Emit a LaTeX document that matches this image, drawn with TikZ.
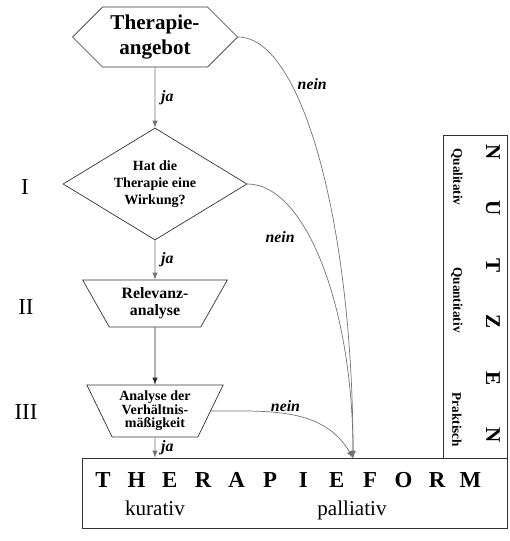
\documentclass[tikz,border=0pt]{standalone}
\usepackage{fontspec}
\setmainfont{Liberation Serif}
\usetikzlibrary{shapes.geometric,shapes.symbols,positioning}

\tikzset{
  flow/.style={draw=black!80, fill=white, align=center, inner sep=0pt},
  conn/.style={draw=black!55, -latex},
  lbl/.style={font=\bfseries\itshape\fontsize{9}{10}\selectfont},
  bigletter/.style={font=\bfseries\fontsize{13}{14}\selectfont, anchor=base},
  sideletter/.style={font=\bfseries\fontsize{12}{12}\selectfont, rotate=-90},
  sidelabel/.style={font=\bfseries\fontsize{7.5}{8}\selectfont, rotate=-90},
  numeral/.style={font=\fontsize{13}{14}\selectfont},
}

\begin{document}
\begin{tikzpicture}
        \useasboundingbox (0,0) rectangle (10.18,-10.82);
        % flow of decisions
        \node[flow, shape=signal, signal to=west and east, minimum width=3.3cm, minimum height=1.2cm,
              font=\bfseries\fontsize{12}{14}\selectfont] (offer) at (3.1,-0.74) {Therapie-\\angebot};
        \node[flow, diamond, aspect=1.64, minimum width=3.68cm, minimum height=2.24cm,
              font=\bfseries\fontsize{8}{9.7}\selectfont] (effect) at (3.1,-3.68) {Hat die\\Therapie eine\\Wirkung?};
        \node[flow, trapezium, shape border rotate=180, trapezium left angle=58, trapezium right angle=58,
              trapezium stretches=true, minimum width=2.9cm, minimum height=0.94cm,
              font=\bfseries\fontsize{9}{9.5}\selectfont] (relevance) at (3.1,-6.07) {Relevanz-\\analyse};
        \node[flow, trapezium, shape border rotate=180, trapezium left angle=62, trapezium right angle=62,
              trapezium stretches=true, minimum width=2.74cm, minimum height=1.04cm,
              font=\bfseries\fontsize{8}{7.6}\selectfont] (ratio) at (3.1,-8.22) {Analyse der\\Verhältnis-\\mäßigkeit};
        % boxes
        \node[draw=black!80, minimum width=8.5cm, minimum height=1.4cm, inner sep=0pt] (form) at (5.89,-9.86) {};
        \node[draw=black!80, minimum width=1.28cm, minimum height=6.46cm, inner sep=0pt] (benefit) at (9.5,-5.93) {};
        \foreach \c [count=\i from 0] in {T,H,E,R,A,P,I,E,F,O,R,M}
          \node[bigletter] (f\i) at (2.06+0.668*\i,-9.74) {\c};
        \node[font=\fontsize{12}{14}\selectfont, anchor=base] (curative) at (3.1,-10.3) {kurativ};
        \node[font=\fontsize{12}{14}\selectfont, anchor=base] (palliative) at (7.04,-10.3) {palliativ};
        \foreach \c [count=\i from 0] in {N,U,T,Z,E,N}
          \node[sideletter] (n\i) at (9.86,-3.04-1.132*\i) {\c};
        \node[sidelabel] (qual) at (9.14,-3.54) {Qualitativ};
        \node[sidelabel] (quant) at (9.14,-6.0) {Quantitativ};
        \node[sidelabel] (prakt) at (9.14,-8.4) {Praktisch};
        % levels
        \node[numeral] (lvl1) at (0.5,-3.74) {I};
        \node[numeral] (lvl2) at (0.52,-6.14) {II};
        \node[numeral] (lvl3) at (0.52,-8.24) {III};
        % connectors
        \coordinate (merge) at (7.06,-9.16);
        \draw[conn] (offer) -- node[lbl, right] {ja} (effect);
        \draw[conn] (effect) -- node[lbl, right] {ja} (relevance);
        \draw[conn, draw=black!85] (relevance) -- (ratio);
        \draw[conn] (ratio) -- node[lbl, right] {ja} (ratio |- form.north);
        \draw[conn] (offer.east) to[out=0, in=90, out distance=1.3cm, in distance=4.6cm]
              node[lbl, pos=0.3, right] {nein} (merge);
        \draw[conn] (effect.east) to[out=0, in=90, out distance=1.17cm, in distance=3cm]
              node[lbl, pos=0.4, left, xshift=-0.18cm] {nein} (merge);
        \draw[conn] (ratio.east) to[out=0, in=120] node[lbl, pos=0.45, above, yshift=-0.08cm] {nein} (merge);
      \end{tikzpicture}
\end{document}
